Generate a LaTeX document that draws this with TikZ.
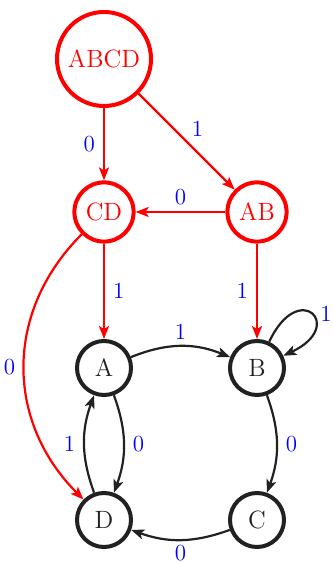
\documentclass[tikz,border=0pt]{standalone}
\usetikzlibrary{arrows.meta}
\begin{document}
\begin{tikzpicture}[x=0.5pt,y=0.5pt,
  state/.style={circle,draw=black!87,line width=2pt,inner sep=0pt,minimum size=27pt,
    font=\fontsize{12.5}{14}\selectfont,text=black!87},
  rstate/.style={state,draw=red,text=red},
  edge/.style={-{Stealth[length=6.5pt,width=5pt,inset=1.5pt]},line width=1.1pt,draw=black!87},
  redge/.style={edge,draw=red},
  lab/.style={text=blue,font=\fontsize{11.5}{13}\selectfont,inner sep=1pt}]
\useasboundingbox (0,0) rectangle (333,562);
\node[rstate,minimum size=47pt] (ABCD) at (104,503) {ABCD};
\node[rstate,minimum size=29.6pt] (CD) at (104,350) {CD};
\node[rstate,minimum size=29.6pt] (AB) at (257,350) {AB};
\node[state] (A) at (104,194) {A};
\node[state] (B) at (257,194) {B};
\node[state] (C) at (257,42) {C};
\node[state] (D) at (104,42) {D};

\draw[redge] (ABCD) -- node[lab,left=3pt] {0} (CD);
\draw[redge] (ABCD) -- node[lab,above right=1pt] {1} (AB);
\draw[redge] (AB) -- node[lab,above=2pt] {0} (CD);
\draw[redge] (CD) -- node[lab,right=3pt] {1} (A);
\draw[redge] (AB) -- node[lab,left=3pt] {1} (B);
\draw[redge] (CD.225) .. controls +(225:110) and +(135:110) .. node[lab,left=3pt] {0} (D.135);

\draw[edge] (A) to[bend left=22] node[lab,above=2pt] {1} (B);
\draw[edge] (B.65) .. controls +(65:70) and +(25:70) .. node[lab,right=3pt] {1} (B.25);
\draw[edge] (B) to[bend left=20] node[lab,right=3pt] {0} (C);
\draw[edge] (C) to[bend left=20] node[lab,below=1pt] {0} (D);
\draw[edge] (A) to[bend left=20] node[lab,right=3pt] {0} (D);
\draw[edge] (D) to[bend left=20] node[lab,left=3pt] {1} (A);
\end{tikzpicture}
\end{document}
